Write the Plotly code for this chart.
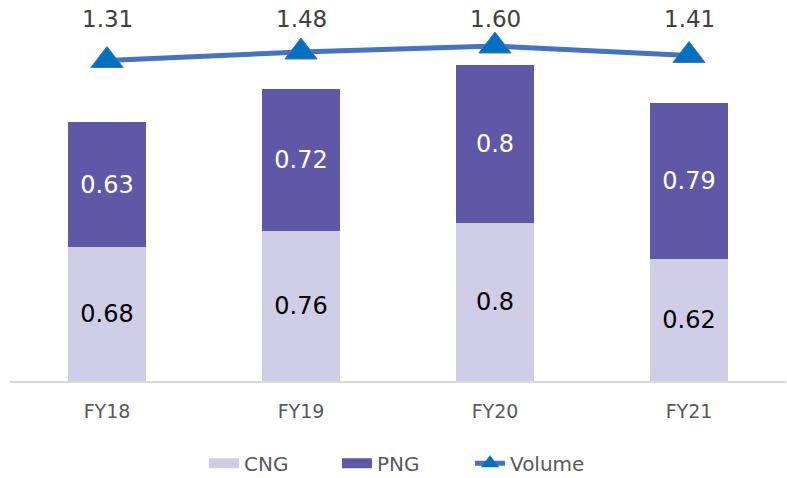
import plotly.graph_objects as go

categories = ["FY18", "FY19", "FY20", "FY21"]
cng = [0.68, 0.76, 0.8, 0.62]
png = [0.63, 0.72, 0.8, 0.79]
volume = [1.31, 1.48, 1.60, 1.41]

FONT = "DejaVu Sans"
C_CNG = "#D0CEE6"
C_PNG = "#5F58A6"
C_LINE = "#4472C4"
C_MARK = "#0070C0"

fig = go.Figure()
fig.add_trace(go.Bar(
    x=categories, y=cng, name="CNG", showlegend=False,
    marker=dict(color=C_CNG, line=dict(width=0)),
    text=[str(v) for v in cng], textposition="inside", insidetextanchor="middle",
    textfont=dict(family=FONT, size=24, color="#000000"),
    constraintext="none",
))
fig.add_trace(go.Bar(
    x=categories, y=png, name="PNG", showlegend=False,
    marker=dict(color=C_PNG, line=dict(width=0)),
    text=[str(v) for v in png], textposition="inside", insidetextanchor="middle",
    textfont=dict(family=FONT, size=24, color="#FFFFFF"),
    constraintext="none",
))
fig.add_trace(go.Scatter(
    x=categories, y=volume, name="Volume", yaxis="y2",
    mode="lines+markers", showlegend=False,
    line=dict(color=C_LINE, width=5),
    marker=dict(symbol="triangle-up", size=28, color=C_MARK,
                line=dict(color=C_LINE, width=1)),
))

# legend entries (wide swatches like the reference)
fig.add_trace(go.Scatter(x=[None], y=[None], name="CNG", mode="lines",
                         line=dict(color=C_CNG, width=14)))
fig.add_trace(go.Scatter(x=[None], y=[None], name="PNG", mode="lines",
                         line=dict(color=C_PNG, width=14)))
fig.add_trace(go.Scatter(x=[None], y=[None], name="Volume", mode="lines+markers",
                         line=dict(color=C_LINE, width=5),
                         marker=dict(symbol="triangle-up", size=16, color=C_MARK)))

for c, v in zip(categories, volume):
    fig.add_annotation(
        x=c, y=0.975, yref="paper", xref="x", text=f"{v:.2f}",
        showarrow=False, yanchor="middle",
        font=dict(family=FONT, size=23, color="#404040"),
    )

fig.update_layout(
    width=787, height=478,
    margin=dict(l=10, r=1, t=10, b=97),
    paper_bgcolor="white", plot_bgcolor="white",
    barmode="stack", bargap=0.6,
    font=dict(family=FONT, color="#595959"),
    showlegend=True,
    legend=dict(orientation="h", x=0.25, xanchor="left",
                yref="container", y=0.031, yanchor="middle",
                font=dict(family=FONT, size=20, color="#595959"),
                traceorder="normal", entrywidth=88),
    xaxis=dict(showgrid=False, showline=True, linecolor="#D9D9D9", linewidth=2,
               ticks="", ticklabelstandoff=12,
               tickfont=dict(family=FONT, size=19, color="#595959")),
    yaxis=dict(range=[0, 1.88], visible=False, showgrid=False),
    yaxis2=dict(range=[-5.10, 2.32], overlaying="y", visible=False, showgrid=False),
)

fig.write_html("out.html", config={"displayModeBar": False},
               post_script="document.body.style.margin='0px';")
